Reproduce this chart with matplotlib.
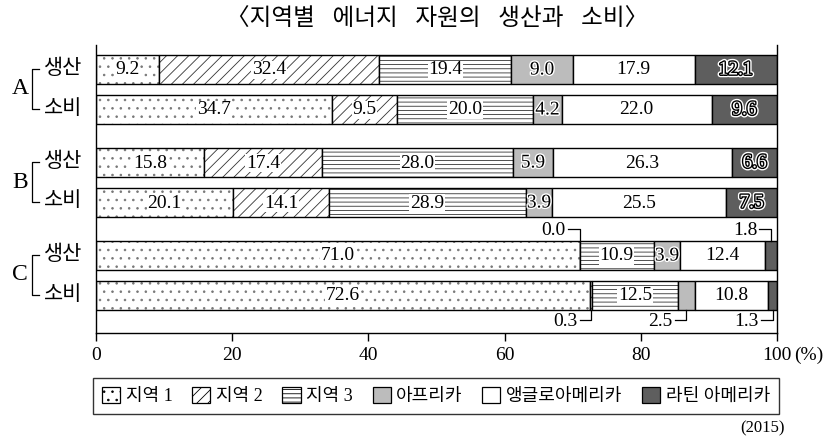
import numpy as np
import matplotlib
matplotlib.use('Agg')
import matplotlib.pyplot as plt
import matplotlib.patheffects as pe
from matplotlib.patches import Patch

plt.rcParams['font.family'] = ['Liberation Serif', 'Noto Sans CJK KR', 'DejaVu Sans']
plt.rcParams['hatch.linewidth'] = 0.6

# 데이터 (2015)
groups = ['A', 'B', 'C']
kinds = ['생산', '소비']
regions = ['지역 1', '지역 2', '지역 3', '아프리카', '앵글로아메리카', '라틴 아메리카']
a_prod = [9.2, 32.4, 19.4, 9.0, 17.9, 12.1]
a_cons = [34.7, 9.5, 20.0, 4.2, 22.0, 9.6]
b_prod = [15.8, 17.4, 28.0, 5.9, 26.3, 6.6]
b_cons = [20.1, 14.1, 28.9, 3.9, 25.5, 7.5]
c_prod = [71.0, 0.0, 10.9, 3.9, 12.4, 1.8]
c_cons = [72.6, 0.3, 12.5, 2.5, 10.8, 1.3]
rows = [a_prod, a_cons, b_prod, b_cons, c_prod, c_cons]

hatches = ['..', '///', '----', None, None, None]
hatch_cols = ['#777777', '#333333', '#333333', 'black', 'black', 'black']
faces = ['white', 'white', 'white', '#bcbcbc', 'white', '#5e5e5e']

fig = plt.figure(figsize=(8.32, 4.43), dpi=100)
ax = fig.add_axes([96/832, 110/443, 681/832, 288/443])

# 막대 위치 (그룹 간격 93, 그룹 안 간격 40)
ypos = []
for g in range(3):
    ypos += [g*93 + 24, g*93 + 64]
bh = 29

for r, (vals, y) in enumerate(zip(rows, ypos)):
    left = 0
    for k, v in enumerate(vals):
        # 무늬는 회색 선으로, 테두리는 검은 선으로 따로 그림
        ax.barh(y, v, left=left, height=bh, color=faces[k], edgecolor=hatch_cols[k],
                linewidth=0, hatch=hatches[k])
        ax.barh(y, v, left=left, height=bh, color='none', edgecolor='black', linewidth=1.0)
        cx = left + v / 2
        small = r >= 4 and (k == 1 or k == 5 or (r == 5 and k == 3))
        if not small:
            if k == 5:
                ax.text(cx, y + 1, f'{v:.1f}', ha='center', va='center', fontsize=14,
                        color='white',
                        path_effects=[pe.Stroke(linewidth=4, foreground='white'),
                                      pe.Stroke(linewidth=2, foreground='black'),
                                      pe.Normal()])
            elif k == 3:
                ax.text(cx, y + 1, f'{v:.1f}', ha='center', va='center', fontsize=14,
                        color='black',
                        path_effects=[pe.withStroke(linewidth=2, foreground='white')])
            else:
                ax.text(cx, y + 1, f'{v:.1f}', ha='center', va='center', fontsize=14,
                        color='black',
                        bbox=dict(facecolor='white', edgecolor='none', pad=0.5))
        left += v

# C 지역의 작은 값 지시선
def callout(r, k, side):
    vals = rows[r]
    x = sum(vals[:k]) + vals[k] / 2
    y = ypos[r]
    if side == 'top':
        y0 = y - bh / 2
        y1 = y0 - 12
    else:
        y0 = y + bh / 2
        y1 = y0 + 10
    x1 = x - 1.7
    ax.plot([x, x, x1], [y0, y1, y1], color='black', lw=0.9, clip_on=False)
    ax.text(x1 - 0.3, y1 + 2, f'{vals[k]:.1f}', ha='right', va='center', fontsize=14)

callout(4, 1, 'top')
callout(4, 5, 'top')
callout(5, 1, 'bottom')
callout(5, 3, 'bottom')
callout(5, 5, 'bottom')

ax.set_xlim(0, 100)
ax.set_ylim(288, 0)
ax.set_xticks([0, 20, 40, 60, 80, 100])
ax.set_xticklabels(['0', '20', '40', '60', '80', '100'], fontsize=14)
ax.tick_params(axis='x', direction='out', length=6, width=1, pad=4)
ax.set_yticks([])
ax.spines['top'].set_visible(False)
for s in ['left', 'right', 'bottom']:
    ax.spines[s].set_linewidth(1.0)
ax.annotate('(%)', xy=(1, 0), xycoords='axes fraction', xytext=(12, -16),
            textcoords='offset points', ha='left', va='center', fontsize=14)

# 왼쪽 라벨과 괄호
fx = lambda px: (px - 96) / 681 * 100
for g, name in enumerate(groups):
    yt = ypos[2*g]
    yb = ypos[2*g + 1]
    ax.text(fx(82), yt, kinds[0], ha='right', va='center', fontsize=15, clip_on=False)
    ax.text(fx(82), yb, kinds[1], ha='right', va='center', fontsize=15, clip_on=False)
    ax.plot([fx(39), fx(32), fx(32), fx(39)], [yt, yt, yb, yb], color='black', lw=0.9,
            clip_on=False)
    ax.text(fx(20), (yt + yb) / 2, name, ha='center', va='center', fontsize=17,
            clip_on=False)

fig.text(437/832, 1 - 20/443, '〈지역별   에너지   자원의   생산과   소비〉', ha='center',
         va='center', fontsize=17)

handles = []
for k in range(6):
    handles.append(Patch(facecolor=faces[k], edgecolor='black', hatch=hatches[k],
                         linewidth=0.9))
leg = fig.legend(handles, regions, loc='center', bbox_to_anchor=(436/832, 1 - 396/443),
                 ncol=6, fontsize=13, frameon=True, fancybox=False, edgecolor='black',
                 handlelength=1.0, handleheight=1.0, handletextpad=0.3,
                 columnspacing=1.1, borderpad=0.5)
leg.get_frame().set_linewidth(1.0)

fig.text(785/832, 1 - 428/443, '(2015)', ha='right', va='center', fontsize=12)

fig.savefig('out.png', dpi=100)
